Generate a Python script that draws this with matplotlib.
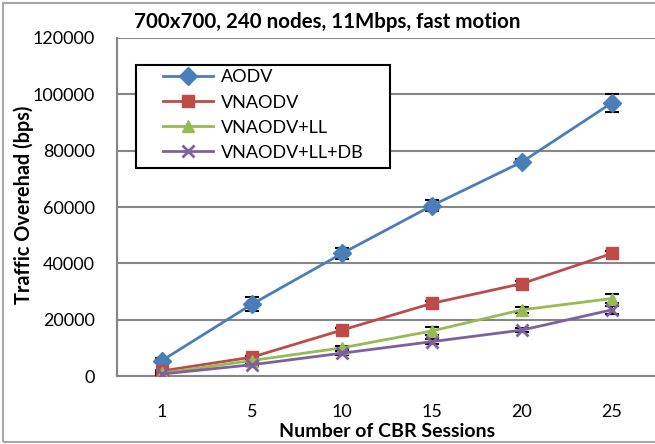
import matplotlib
matplotlib.use("Agg")
import matplotlib.pyplot as plt
from matplotlib.patches import Rectangle
import numpy as np

categories = ["1", "5", "10", "15", "20", "25"]
aodv = [5500, 25500, 43500, 60500, 76000, 97000]
aodv_err = [800, 2500, 2000, 2000, 1000, 3200]
vnaodv = [1800, 6700, 16300, 25800, 32800, 43500]
vnaodv_err = [300, 500, 700, 800, 800, 900]
vnaodv_ll = [1000, 5500, 10000, 16000, 23500, 27500]
vnaodv_ll_err = [300, 600, 800, 1500, 1000, 1500]
vnaodv_lldb = [700, 4000, 8100, 12200, 16300, 23500]
vnaodv_lldb_err = [200, 500, 700, 1000, 800, 1500]
yticks = [0, 20000, 40000, 60000, 80000, 100000, 120000]

W, H = 655, 444
fig = plt.figure(figsize=(W / 100, H / 100), dpi=100)
plt.rcParams['font.family'] = ['Lato', 'DejaVu Sans']

def fx(px):
    return px / W

def fy(py):
    return 1 - py / H

ax = fig.add_axes([fx(117), fy(376), fx(657) - fx(117), fy(38) - fy(376)])

x = np.arange(len(categories))
series = [
    ("AODV", aodv, aodv_err, "#4A7EBB", "D", 9),
    ("VNAODV", vnaodv, vnaodv_err, "#BE4B48", "s", 9),
    ("VNAODV+LL", vnaodv_ll, vnaodv_ll_err, "#98B954", "^", 9),
    ("VNAODV+LL+DB", vnaodv_lldb, vnaodv_lldb_err, "#7D60A0", "x", 9),
]
for name, vals, err, col, mk, ms in series:
    ax.errorbar(x, vals, yerr=err, fmt="none", ecolor="black", elinewidth=1.5,
                capsize=5, capthick=1.5, zorder=4)
    ax.plot(x, vals, color=col, marker=mk, markersize=ms, linewidth=2,
            markeredgewidth=2 if mk == "x" else 1, markeredgecolor=col,
            label=name, zorder=5)

ax.set_xlim(-0.5, len(categories) - 0.5)
ax.set_ylim(0, 120000)
ax.set_xticks(x)
ax.set_xticklabels(categories)
ax.set_yticks(yticks)
ax.set_yticklabels([str(v) for v in yticks])
ax.tick_params(length=0, labelsize=13, colors="black")
ax.tick_params(axis="x", pad=20)
ax.tick_params(axis="y", pad=16)
ax.grid(axis="y", color="#868686", linewidth=1.5)
ax.set_axisbelow(True)
for s in ["top", "right"]:
    ax.spines[s].set_visible(False)
for s in ["left", "bottom"]:
    ax.spines[s].set_color("#868686")
    ax.spines[s].set_linewidth(1.5)

fig.text(fx(387.5), fy(431), "Number of CBR Sessions", ha="center", va="center",
         fontsize=14, fontweight="bold")
fig.text(fx(24), fy(205), "Traffic Overehad (bps)", ha="center", va="center",
         rotation=90, fontsize=14.3, fontweight="bold")
fig.text(fx(134), fy(22), "700x700, 240 nodes, 11Mbps, fast motion", ha="left",
         va="center", fontsize=14.8, fontweight="bold")

# legend frame (Excel-style box)
fig.patches.append(Rectangle((fx(136), fy(168)), fx(390) - fx(136), fy(65) - fy(168),
                             transform=fig.transFigure, facecolor="white",
                             edgecolor="black", linewidth=1.5, zorder=6))
fs_px = 13 * 100 / 72
leg = fig.legend(*ax.get_legend_handles_labels(), loc="upper left",
                 bbox_to_anchor=(fx(163), fy(69.5)),
                 bbox_transform=fig.transFigure, fontsize=13, frameon=False,
                 handlelength=50 / fs_px, handletextpad=8 / fs_px,
                 borderpad=0, labelspacing=0.5, borderaxespad=0)
leg.set_zorder(7)

fig.patches.append(Rectangle((fx(3), fy(442)), 1.2, fy(3) - fy(442),
                             transform=fig.transFigure, fill=False,
                             edgecolor="#a6a6a6", linewidth=1.5))

fig.savefig("out.png", dpi=100)
